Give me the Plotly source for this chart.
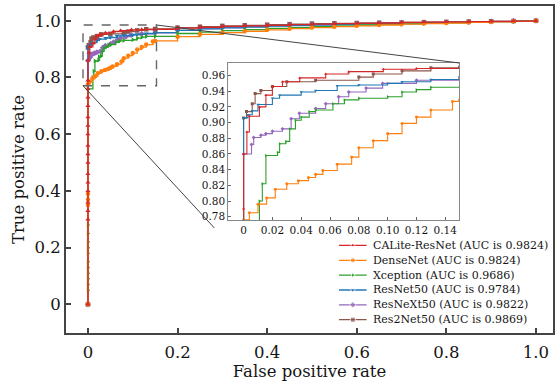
import plotly.graph_objects as go

# ---------------- data ----------------
names = ["CALite-ResNet (AUC is 0.9824)", "DenseNet (AUC is 0.9824)", "Xception (AUC is 0.9686)",
         "ResNet50 (AUC is 0.9784)", "ResNeXt50 (AUC is 0.9822)", "Res2Net50 (AUC is 0.9869)"]

calite_fpr = [0, 0, 0, 0, 0, 0, 0, 0, 0, 0, 0, 0, 0, 0, 0, 0, 0, 0,
              0.0023, 0.004, 0.011, 0.0155, 0.02, 0.027, 0.039, 0.057, 0.073, 0.097, 0.12, 0.15,
              0.2, 0.25, 0.3, 0.35, 0.4, 0.45, 0.5, 0.55, 0.6, 0.65, 0.7, 0.75, 0.8, 0.85, 0.9, 0.95, 1.0]
calite_tpr = [0, 0.30, 0.33, 0.36, 0.40, 0.43, 0.46, 0.50, 0.53, 0.56, 0.60, 0.63, 0.66, 0.70, 0.73, 0.76, 0.79, 0.86,
              0.888, 0.908, 0.92, 0.935, 0.946, 0.952, 0.957, 0.962, 0.965, 0.968, 0.969, 0.970,
              0.974, 0.977, 0.980, 0.982, 0.984, 0.986, 0.988, 0.990, 0.991, 0.992, 0.994, 0.995, 0.996, 0.997, 0.998, 0.999, 1.0]

densenet_fpr = [0, 0, 0, 0, 0, 0.004, 0.01, 0.016, 0.022, 0.03, 0.038, 0.045, 0.05, 0.055, 0.065, 0.075, 0.08,
                0.09, 0.1, 0.11, 0.12, 0.13, 0.145, 0.15,
                0.2, 0.25, 0.3, 0.35, 0.4, 0.45, 0.5, 0.55, 0.6, 0.65, 0.7, 0.75, 0.8, 0.85, 0.9, 0.95, 1.0]
densenet_tpr = [0, 0.35, 0.37, 0.39, 0.776, 0.785, 0.796, 0.804, 0.815, 0.822, 0.826, 0.830, 0.834, 0.839, 0.847, 0.856, 0.868,
                0.877, 0.886, 0.899, 0.907, 0.916, 0.927, 0.929,
                0.944, 0.952, 0.958, 0.963, 0.968, 0.972, 0.976, 0.979, 0.982, 0.985, 0.988, 0.990, 0.992, 0.994, 0.996, 0.998, 1.0]

xception_fpr = [0, 0, 0, 0, 0, 0, 0, 0, 0, 0, 0, 0, 0, 0.011, 0.013, 0.0155, 0.0236, 0.025, 0.0294, 0.032, 0.036,
                0.04, 0.0456, 0.05, 0.062, 0.07, 0.08, 0.1, 0.11, 0.12, 0.13, 0.15,
                0.2, 0.25, 0.3, 0.35, 0.4, 0.45, 0.5, 0.55, 0.6, 0.65, 0.7, 0.75, 0.8, 0.85, 0.9, 0.95, 1.0]
xception_tpr = [0, 0.05, 0.07, 0.09, 0.11, 0.13, 0.15, 0.18, 0.20, 0.22, 0.25, 0.28, 0.76, 0.80, 0.822, 0.858, 0.862, 0.873, 0.876, 0.892, 0.903,
                0.907, 0.914, 0.916, 0.924, 0.929, 0.931, 0.933, 0.939, 0.942, 0.945, 0.945,
                0.955, 0.960, 0.965, 0.969, 0.973, 0.976, 0.979, 0.982, 0.985, 0.987, 0.989, 0.991, 0.993, 0.995, 0.997, 0.998, 1.0]

resnet_fpr = [0, 0, 0.003, 0.006, 0.01, 0.02, 0.025, 0.04, 0.05, 0.065, 0.08, 0.1, 0.11, 0.13, 0.15,
              0.2, 0.25, 0.3, 0.35, 0.4, 0.45, 0.5, 0.55, 0.6, 0.65, 0.7, 0.75, 0.8, 0.85, 0.9, 0.95, 1.0]
resnet_tpr = [0, 0.906, 0.910, 0.915, 0.923, 0.931, 0.935, 0.939, 0.941, 0.947, 0.948, 0.950, 0.952, 0.955, 0.958,
              0.966, 0.971, 0.975, 0.978, 0.981, 0.983, 0.985, 0.987, 0.989, 0.990, 0.992, 0.993, 0.995, 0.996, 0.997, 0.999, 1.0]

resnext_fpr = [0, 0, 0.0055, 0.007, 0.012, 0.0155, 0.02, 0.027, 0.033, 0.0387, 0.05, 0.057, 0.066, 0.073, 0.085, 0.0965, 0.12, 0.15,
               0.2, 0.25, 0.3, 0.35, 0.4, 0.45, 0.5, 0.55, 0.6, 0.65, 0.7, 0.75, 0.8, 0.85, 0.9, 0.95, 1.0]
resnext_tpr = [0, 0.86, 0.872, 0.881, 0.884, 0.886, 0.889, 0.892, 0.905, 0.912, 0.918, 0.924, 0.933, 0.939, 0.944, 0.950, 0.954, 0.957,
               0.966, 0.972, 0.976, 0.979, 0.982, 0.984, 0.986, 0.988, 0.990, 0.991, 0.993, 0.994, 0.995, 0.996, 0.998, 0.999, 1.0]

res2net_fpr = [0, 0, 0.002, 0.006, 0.008, 0.012, 0.02, 0.03, 0.05, 0.08, 0.09, 0.11, 0.13, 0.15,
               0.2, 0.25, 0.3, 0.35, 0.4, 0.45, 0.5, 0.55, 0.6, 0.65, 0.7, 0.75, 0.8, 0.85, 0.9, 0.95, 1.0]
res2net_tpr = [0, 0.906, 0.914, 0.924, 0.937, 0.941, 0.946, 0.952, 0.954, 0.958, 0.962, 0.966, 0.970, 0.971,
               0.976, 0.979, 0.982, 0.984, 0.986, 0.988, 0.990, 0.991, 0.992, 0.993, 0.994, 0.995, 0.996, 0.997, 0.998, 0.999, 1.0]

main_xticks = [0, 0.2, 0.4, 0.6, 0.8, 1.0]
main_xtext = ["0", "0.2", "0.4", "0.6", "0.8", "1.0"]
main_yticks = [0, 0.2, 0.4, 0.6, 0.8, 1.0]
main_ytext = ["0", "0.2", "0.4", "0.6", "0.8", "1.0"]
inset_xticks = [0, 0.02, 0.04, 0.06, 0.08, 0.10, 0.12, 0.14]
inset_xtext = ["0", "0.02", "0.04", "0.06", "0.08", "0.10", "0.12", "0.14"]
inset_yticks = [0.78, 0.80, 0.82, 0.84, 0.86, 0.88, 0.90, 0.92, 0.94, 0.96]
inset_ytext = ["0.78", "0.80", "0.82", "0.84", "0.86", "0.88", "0.90", "0.92", "0.94", "0.96"]

# ---------------- style ----------------
colors = ["#d62728", "#ff7f0e", "#2ca02c", "#1f77b4", "#9467bd", "#8c564b"]
symbols = ["triangle-up", "circle", "triangle-right", "triangle-down", "diamond", "square"]
series = [(calite_fpr, calite_tpr), (densenet_fpr, densenet_tpr), (xception_fpr, xception_tpr),
          (resnet_fpr, resnet_tpr), (resnext_fpr, resnext_tpr), (res2net_fpr, res2net_tpr)]

FONT = "DejaVu Serif"
TXT = "#151515"
W, H = 555, 388
ML, MR, MT, MB = 66, 0, 6, 55
xr_main = [-0.049, 1.038]
yr_main = [-0.101, 1.052]
xr_in = [-0.0106, 0.1498]
yr_in = [0.7758, 0.976]
dom_x_in = [0.3333, 0.8078]
dom_y_in = [0.3456, 0.8257]
rect = dict(x0=-0.011, x1=0.153, y0=0.771, y1=0.985)

pw = W - ML - MR
ph = H - MT - MB

# manual legend geometry (pixels)
LEG_LINE_X0, LEG_LINE_X1, LEG_TEXT_X = 340, 368, 372
LEG_TOP, LEG_ROW = 238, 14.85
LEG_SAMPLE = [0, 0.5, 1]

fig = go.Figure()
order = [5, 4, 3, 2, 1, 0]
for k in order:
    fx, ty = series[k]
    fig.add_trace(go.Scatter(x=fx, y=ty, mode="lines+markers", name=names[k], line_shape="hv", showlegend=False,
                             line=dict(color=colors[k], width=1.3),
                             marker=dict(color=colors[k], size=4.5, symbol=symbols[k]),
                             xaxis="x", yaxis="y"))
for k in order:
    fx, ty = series[k]
    fig.add_trace(go.Scatter(x=fx, y=ty, mode="lines+markers", name=names[k], line_shape="hv", showlegend=False,
                             line=dict(color=colors[k], width=1.1),
                             marker=dict(color=colors[k], size=3, symbol=symbols[k]),
                             xaxis="x2", yaxis="y2"))
# legend glyphs
for k in range(6):
    fig.add_trace(go.Scatter(x=LEG_SAMPLE, y=[k] * len(LEG_SAMPLE), mode="lines+markers", showlegend=False,
                             line=dict(color=colors[k], width=1.3),
                             marker=dict(color=colors[k], size=[0, 5, 0], symbol=symbols[k]),
                             xaxis="x3", yaxis="y3", hoverinfo="skip"))


def px_to_paper_x(px):
    return (px - ML) / pw


def px_to_paper_y(py):
    return (H - MB - py) / ph


def paper_to_main(px, py):
    fx = px_to_paper_x(px)
    fy = px_to_paper_y(py)
    return (xr_main[0] + fx * (xr_main[1] - xr_main[0]), yr_main[0] + fy * (yr_main[1] - yr_main[0]))


in_right_px = ML + dom_x_in[1] * pw
in_top_px = H - MB - dom_y_in[1] * ph
in_left_px = ML + dom_x_in[0] * pw
in_bot_px = H - MB - dom_y_in[0] * ph
tr = paper_to_main(in_right_px, in_top_px)
bl = paper_to_main(in_left_px - 14, in_bot_px + 8)

shapes = [
    dict(type="rect", xref="x2 domain", yref="y2 domain", x0=0, x1=1, y0=0, y1=1,
         fillcolor="#ebebeb", line=dict(width=0), layer="below"),
    dict(type="rect", xref="x", yref="y", **rect, line=dict(color="#666", width=1.4, dash="dash")),
    dict(type="line", xref="x", yref="y", x0=rect["x1"], y0=rect["y1"], x1=tr[0], y1=tr[1],
         line=dict(color="#444", width=1)),
    dict(type="line", xref="x", yref="y", x0=rect["x0"], y0=rect["y0"], x1=bl[0], y1=bl[1],
         line=dict(color="#444", width=1)),
]

annotations = [dict(text=names[k], xref="paper", yref="y3", x=px_to_paper_x(LEG_TEXT_X), y=k,
                    xanchor="left", yanchor="middle", showarrow=False,
                    font=dict(size=11, family=FONT, color=TXT)) for k in range(6)]

leg_bottom = LEG_TOP + 6 * LEG_ROW

fig.update_layout(
    width=W, height=H, margin=dict(l=ML, r=MR, t=MT, b=MB),
    paper_bgcolor="white", plot_bgcolor="white",
    font=dict(family=FONT, color=TXT),
    shapes=shapes, annotations=annotations, showlegend=False,
    xaxis=dict(range=xr_main, tickvals=main_xticks, ticktext=main_xtext, ticks="inside", ticklen=5,
               tickwidth=1.5, tickcolor="#444", showline=True, mirror=True, linecolor="#444", linewidth=2,
               showgrid=False, zeroline=False, tickfont=dict(size=16.5), ticklabelstandoff=3,
               title=dict(text="False positive rate", font=dict(size=16.5), standoff=4)),
    yaxis=dict(range=yr_main, tickvals=main_yticks, ticktext=main_ytext, ticks="inside", ticklen=5,
               tickwidth=1.5, tickcolor="#444", showline=True, mirror=True, linecolor="#444", linewidth=2,
               showgrid=False, zeroline=False, tickfont=dict(size=16.5),
               title=dict(text="True positive rate", font=dict(size=16.5), standoff=6)),
    xaxis2=dict(domain=dom_x_in, anchor="y2", range=xr_in, tickvals=inset_xticks, ticktext=inset_xtext,
                ticks="inside", ticklen=3, tickcolor="#666", showline=True, mirror=True, linecolor="#888",
                linewidth=1, showgrid=False, zeroline=False, tickfont=dict(size=10.5)),
    yaxis2=dict(domain=dom_y_in, anchor="x2", range=yr_in, tickvals=inset_yticks, ticktext=inset_ytext,
                ticks="inside", ticklen=3, tickcolor="#666", showline=True, mirror=True, linecolor="#888",
                linewidth=1, showgrid=False, zeroline=False, tickfont=dict(size=10.5)),
    xaxis3=dict(domain=[px_to_paper_x(LEG_LINE_X0), px_to_paper_x(LEG_LINE_X1)], anchor="y3",
                range=[0, 1], visible=False, fixedrange=True),
    yaxis3=dict(domain=[px_to_paper_y(leg_bottom), px_to_paper_y(LEG_TOP)], anchor="x3",
                range=[5.5, -0.5], visible=False, fixedrange=True),
)

fig.write_html("out.html", config={"displayModeBar": False},
               post_script="document.body.style.margin='0';")
